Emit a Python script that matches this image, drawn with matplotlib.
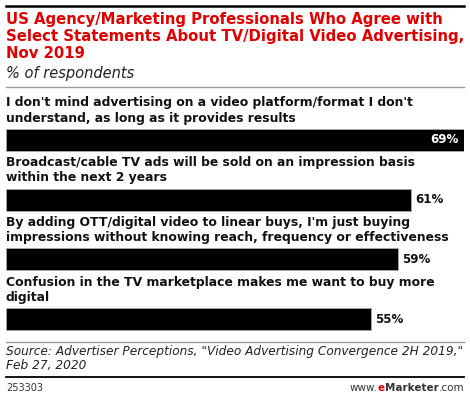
import matplotlib.pyplot as plt
from matplotlib.offsetbox import TextArea, HPacker, AnchoredOffsetbox

# data
statements = [
    "I don't mind advertising on a video platform/format I don't\nunderstand, as long as it provides results",
    "Broadcast/cable TV ads will be sold on an impression basis\nwithin the next 2 years",
    "By adding OTT/digital video to linear buys, I'm just buying\nimpressions without knowing reach, frequency or effectiveness",
    "Confusion in the TV marketplace makes me want to buy more\ndigital",
]
values = [69, 61, 59, 55]

title = "US Agency/Marketing Professionals Who Agree with\nSelect Statements About TV/Digital Video Advertising,\nNov 2019"
subtitle = "% of respondents"
source = "Source: Advertiser Perceptions, \"Video Advertising Convergence 2H 2019,\"\nFeb 27, 2020"
chart_id = "253303"

plt.rcParams.update({
    'font.family': ['DejaVu Sans'],
    'savefig.dpi': 100,
    'figure.dpi': 100,
})

W, H = 470, 399
fig = plt.figure(figsize=(W / 100, H / 100))

def fy(px):
    # pixel from top -> figure fraction
    return 1 - px / H

def hline(y, color, lw, x0=6, x1=464):
    fig.add_artist(plt.Line2D([x0 / W, x1 / W], [fy(y), fy(y)], color=color, lw=lw))

# header
hline(6, 'black', 1.8)
fig.text(6 / W, fy(12), title, color='#e00000', fontsize=10.7, fontweight='bold',
         va='top', ha='left', linespacing=1.16)
fig.text(6 / W, fy(66), subtitle, color='#222222', fontsize=10.5, style='italic',
         va='top', ha='left')
hline(87, '#999999', 1.0)

# bars
ax = fig.add_axes([6 / W, fy(349), 458 / W, 239 / H])
ypos = list(range(len(values)))
ax.barh(ypos, values, height=0.37, color='black', edgecolor='#aaaaaa', linewidth=0.6)
ax.set_xlim(0, max(values))
ax.set_ylim(len(values) - 0.5, -0.5)
ax.axis('off')

for i, (lab, v) in enumerate(zip(statements, values)):
    ax.annotate(lab, xy=(0, i - 0.185), xytext=(0, 3), textcoords='offset points',
                ha='left', va='bottom', fontsize=8.9, fontweight='bold',
                color='#111111', linespacing=1.22, annotation_clip=False)
    if v == max(values):
        ax.annotate(f"{v}%", xy=(v, i), xytext=(-4, 0), textcoords='offset points',
                    ha='right', va='center', fontsize=8.6, fontweight='bold', color='white')
    else:
        ax.annotate(f"{v}%", xy=(v, i), xytext=(3, 0), textcoords='offset points',
                    ha='left', va='center', fontsize=8.6, fontweight='bold', color='#111111',
                    annotation_clip=False)

# footer
hline(342, '#999999', 1.0)
fig.text(6 / W, fy(345), source, color='#222222', fontsize=8.7, style='italic',
         va='top', ha='left', linespacing=1.1)
hline(377, 'black', 1.3)
fig.text(6 / W, fy(388), chart_id, color='#333333', fontsize=7, va='center', ha='left')

parts = [TextArea("www.", textprops=dict(color='#333333', fontsize=7.5)),
         TextArea("e", textprops=dict(color='#e00000', fontsize=7.5, fontweight='bold')),
         TextArea("Marketer", textprops=dict(color='#333333', fontsize=7.5, fontweight='bold')),
         TextArea(".com", textprops=dict(color='#333333', fontsize=7.5))]
box = HPacker(children=parts, align='baseline', pad=0, sep=0)
anch = AnchoredOffsetbox(loc='center right', child=box, pad=0, frameon=False,
                         bbox_to_anchor=(464 / W, fy(388)), bbox_transform=fig.transFigure,
                         borderpad=0)
fig.add_artist(anch)

fig.savefig('out.png')
